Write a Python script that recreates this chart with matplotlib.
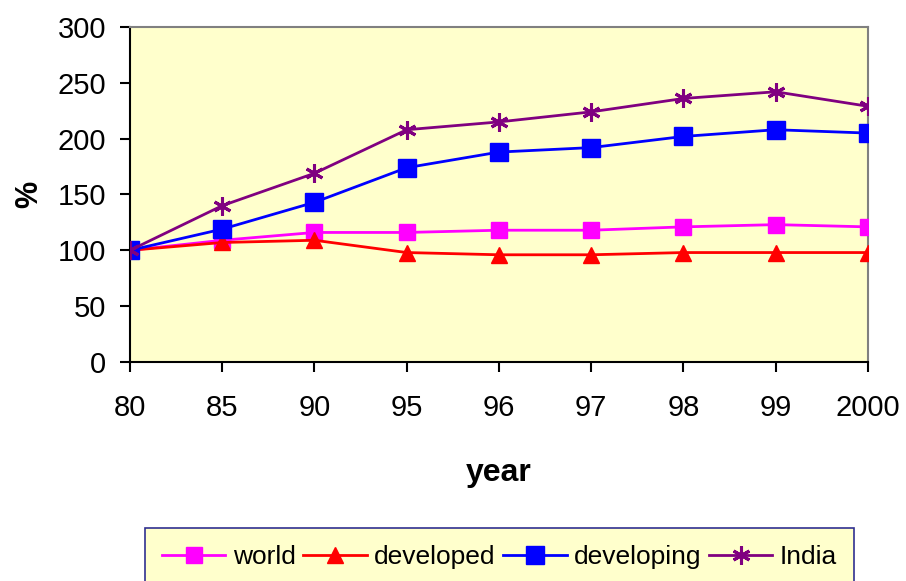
import matplotlib
matplotlib.use("Agg")
import matplotlib.pyplot as plt

plt.rcParams['font.family'] = ['Liberation Sans', 'DejaVu Sans']

years = ["80", "85", "90", "95", "96", "97", "98", "99", "2000"]
world = [100, 109, 116, 116, 118, 118, 121, 123, 121]
developed = [100, 107, 109, 98, 96, 96, 98, 98, 98]
developing = [100, 119, 143, 174, 188, 192, 202, 208, 205]
india = [100, 140, 169, 208, 215, 224, 236, 242, 229]

fig = plt.figure(figsize=(9.06, 5.81), dpi=100)
ax = fig.add_axes([0.1435, 0.377, 0.8145, 0.5765])
ax.set_facecolor('#FFFFCC')

x = list(range(len(years)))
ax.plot(x, world, color='#FF00FF', lw=2.0, marker='s', ms=11, label='world', zorder=3)
ax.plot(x, developed, color='#FF0000', lw=2.0, marker='^', ms=11.5, label='developed', zorder=3)
ax.plot(x, developing, color='#0000FF', lw=2.0, marker='s', ms=13, label='developing', zorder=4)
ax.plot(x, india, color='#800080', lw=2.0, marker=(6, 2, 0), ms=13, mew=2.2, label='India', zorder=5)

ax.set_xlim(0, len(years) - 1)
ax.set_ylim(0, 300)
ax.set_xticks(x)
ax.set_xticklabels(years)
ax.set_yticks(range(0, 301, 50))
ax.tick_params(axis='both', labelsize=21, direction='out', length=7, width=1.5, colors='black')
ax.tick_params(axis='x', pad=16)
ax.tick_params(axis='y', pad=10)

for s in ['left', 'bottom']:
    ax.spines[s].set_color('black')
    ax.spines[s].set_linewidth(1.5)
for s in ['top', 'right']:
    ax.spines[s].set_color('#808080')
    ax.spines[s].set_linewidth(1.5)

ax.set_xlabel('year', fontsize=23, fontweight='bold', labelpad=26)
ax.set_ylabel('%', fontsize=22, fontweight='bold', labelpad=10)

leg = fig.legend(loc='upper center', bbox_to_anchor=(0.5513, 1 - 528 / 581), ncol=4, fontsize=19,
                 frameon=True, fancybox=False, handlelength=2.4, columnspacing=0.3,
                 handletextpad=0.27, borderpad=0.65, borderaxespad=0)
leg.get_frame().set_facecolor('#FFFFCC')
leg.get_frame().set_edgecolor('#303090')
leg.get_frame().set_linewidth(1.2)
leg.get_frame().set_alpha(1)

fig.savefig('out.png', dpi=100)
